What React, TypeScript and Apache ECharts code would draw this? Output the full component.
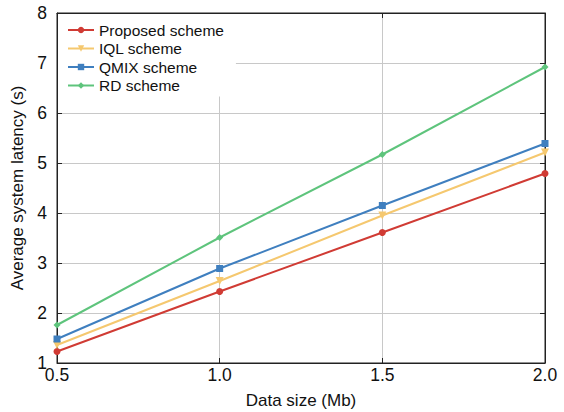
import React, { useEffect, useRef } from "react";
import * as echarts from "echarts";

const categories = [0.5, 1.0, 1.5, 2.0];
const proposed = [1.23, 2.43, 3.61, 4.79];
const iql = [1.36, 2.64, 3.95, 5.21];
const qmix = [1.48, 2.89, 4.15, 5.39];
const rd = [1.76, 3.51, 5.17, 6.92];
const seriesNames = ["Proposed scheme", "IQL scheme", "QMIX scheme", "RD scheme"];
const colors = ["#d03b34", "#f5c86f", "#3f7fbf", "#5ec47c"];
const symbols = ["circle", "triangle", "rect", "diamond"];

export default function App() {
  const ref = useRef<HTMLDivElement>(null);
  useEffect(() => {
    const chart = echarts.init(ref.current!, null, { renderer: "svg" });
    const font = "Liberation Sans";
    const datasets = [proposed, iql, qmix, rd];
    const tickCommon = { show: true, inside: true, length: 5, lineStyle: { color: "#222" } };
    chart.setOption({
      animation: false,
      backgroundColor: "#fff",
      textStyle: { fontFamily: font },
      grid: {
        left: 57, right: 19, top: 13, bottom: 49,
        show: true, borderColor: "#222", borderWidth: 1,
        containLabel: false, outerBoundsMode: "none",
      },
      legend: {
        orient: "vertical",
        left: 58,
        top: 14,
        itemWidth: 26,
        itemHeight: 8,
        itemGap: 2.5,
        backgroundColor: "#fff",
        borderWidth: 0,
        padding: [8, 12, 3, 9],
        textStyle: { fontSize: 15.5, lineHeight: 16, color: "#111", fontFamily: font },
        data: seriesNames,
      },
      xAxis: [
        {
          type: "value",
          min: 0.5,
          max: 2.0,
          interval: 0.5,
          name: "Data size (Mb)",
          nameLocation: "middle",
          nameGap: 29,
          nameTextStyle: { fontSize: 17, color: "#111", fontFamily: font },
          axisLine: { show: true, lineStyle: { color: "#222" } },
          axisTick: tickCommon,
          axisLabel: { fontSize: 17.5, color: "#111", formatter: (v: number) => v.toFixed(1), margin: 3, fontFamily: font },
          splitLine: { show: true, lineStyle: { color: "#c8c8c8", width: 1 } },
        },
        {
          type: "value",
          position: "top",
          min: 0.5,
          max: 2.0,
          interval: 0.5,
          axisLine: { show: true, lineStyle: { color: "#222" } },
          axisTick: tickCommon,
          axisLabel: { show: false },
          splitLine: { show: false },
        },
      ],
      yAxis: [
        {
          type: "value",
          min: 1,
          max: 8,
          interval: 1,
          name: "Average system latency (s)",
          nameLocation: "middle",
          nameGap: 29,
          nameTextStyle: { fontSize: 17, color: "#111", fontFamily: font },
          axisLine: { show: true, lineStyle: { color: "#222" } },
          axisTick: tickCommon,
          axisLabel: { fontSize: 17.5, color: "#111", margin: 10, fontFamily: font },
          splitLine: { show: true, lineStyle: { color: "#c8c8c8", width: 1 } },
        },
        {
          type: "value",
          position: "right",
          min: 1,
          max: 8,
          interval: 1,
          axisLine: { show: true, lineStyle: { color: "#222" } },
          axisTick: tickCommon,
          axisLabel: { show: false },
          splitLine: { show: false },
        },
      ],
      series: datasets.map((d, i) => ({
        name: seriesNames[i],
        type: "line",
        data: categories.map((c, j) => [c, d[j]]),
        symbol: symbols[i],
        symbolSize: i === 1 ? 8 : 7,
        symbolRotate: i === 1 ? 180 : 0,
        color: colors[i],
        lineStyle: { width: 2, color: colors[i] },
        itemStyle: { color: colors[i] },
        z: 3 + i,
      })),
    });
    return () => chart.dispose();
  }, []);
  return <div ref={ref} style={{ width: 564, height: 412, position: "absolute", left: 0, top: 0 }} />;
}
